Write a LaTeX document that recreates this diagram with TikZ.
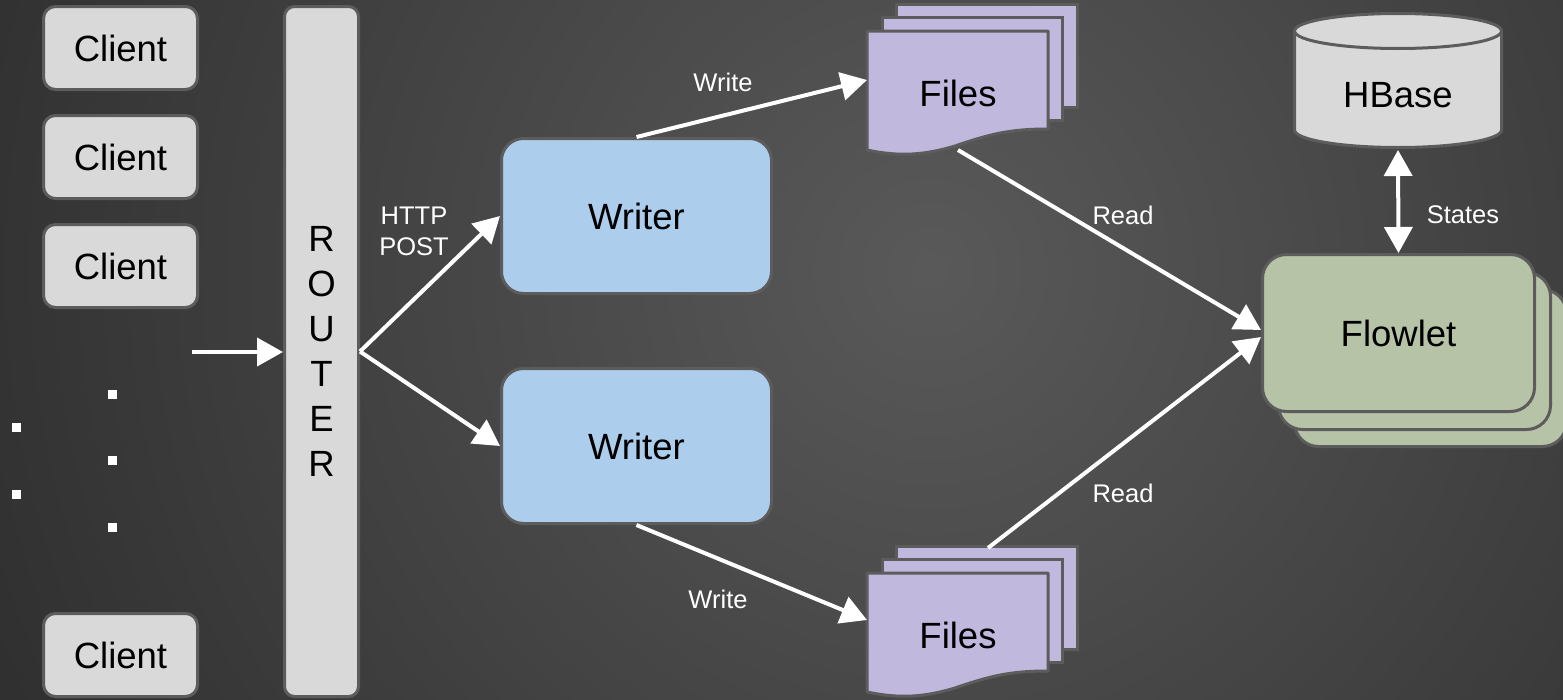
\documentclass[tikz,border=0pt]{standalone}
\usepackage{fontspec}
\setmainfont{Liberation Sans}
\usetikzlibrary{arrows.meta}
\pgfdeclareradialshading{bgshade}{\pgfpoint{0bp}{0bp}}{rgb(0bp)=(0.35,0.35,0.35); rgb(50bp)=(0.03,0.03,0.03)}
\definecolor{bordc}{HTML}{5C5C5C}
\definecolor{clientc}{HTML}{D9D9D9}
\definecolor{writerc}{HTML}{ADCDEC}
\definecolor{filesc}{HTML}{C0B8DD}
\definecolor{flowc}{HTML}{B6C3A6}
\newcommand\drawfiles[2]{%
  \draw[shapeline, fill=filesc] (896,{#1+4}) rectangle (1077,{#1+107});
  \draw[shapeline, fill=filesc] (882,{#1+17}) rectangle (1062,{#1+120});
  \draw[shapeline, fill=filesc, line join=round] (867,{#1+31}) -- (1048,{#1+31}) -- (1048,{#1+129})
     .. controls (1010,{#1+129}) and (990,{#1+134}) .. (955,{#1+146})
     .. controls (925,{#1+155}) and (900,{#1+157}) .. (867,{#1+150}) -- cycle;
  \node[big] (#2) at (958,{#1+93}) {Files};
}
\begin{document}
\begin{tikzpicture}[x=1pt,y=-1pt,
  big/.style={font=\fontsize{36.5}{45}\selectfont, text=black, inner sep=0pt},
  small/.style={font=\fontsize{25.5}{31}\selectfont, text=white, inner sep=0pt},
  shapeline/.style={draw=bordc, line width=3pt},
  box/.style={shapeline, rounded corners=12pt, inner sep=0pt, big},
  tipw/.tip={Triangle[length=26pt,width=28pt]},
  conn/.style={draw=white, line width=4pt, -tipw},
  dotbox/.style={fill=white, minimum size=9pt, inner sep=0pt, outer sep=0pt},
]
\useasboundingbox (0,0) rectangle (1563,699);
\begin{scope}
  \clip (0,0) rectangle (1563,699);
  \shade[shading=bgshade] (-70,-730) rectangle (1930,1270);
\end{scope}

% clients
\node[box, fill=clientc, minimum width=154pt, minimum height=83pt] (c1) at (120.5,48) {Client};
\node[box, fill=clientc, minimum width=154pt, minimum height=83pt] (c2) at (120.5,157) {Client};
\node[box, fill=clientc, minimum width=154pt, minimum height=83pt] (c3) at (120.5,266) {Client};
\node[box, fill=clientc, minimum width=154pt, minimum height=83pt] (c4) at (120.5,655) {Client};

% dots
\node[dotbox] (d1) at (112.5,394.5) {};
\node[dotbox] (d2) at (112.5,460.5) {};
\node[dotbox] (d3) at (112.5,527.5) {};
\node[dotbox] (d4) at (16.5,427.5) {};
\node[dotbox] (d5) at (16.5,494.5) {};

% router
\node[box, fill=clientc, rounded corners=10pt, minimum width=74pt, minimum height=690pt, align=center] (rtr) at (321.5,351.5) {R\\O\\U\\T\\E\\R};

% writers
\node[box, fill=writerc, rounded corners=22pt, minimum width=270pt, minimum height=155pt] (w1) at (636.5,216) {Writer};
\node[box, fill=writerc, rounded corners=22pt, minimum width=270pt, minimum height=155pt] (w2) at (636.5,446) {Writer};

% files
\drawfiles{0}{f1}
\drawfiles{542}{f2}
\coordinate (f1in) at (867,80);
\coordinate (f1out) at (958,150);
\coordinate (f2in) at (867,620);
\coordinate (f2out) at (988,548);

% hbase
\fill[clientc] (1294.5,31) -- (1294.5,130) arc[start angle=180, end angle=360, x radius=103.5pt, y radius=17.5pt] -- (1501.5,31) -- cycle;
\draw[shapeline] (1294.5,31) -- (1294.5,130) arc[start angle=180, end angle=360, x radius=103.5pt, y radius=17.5pt] -- (1501.5,31);
\draw[shapeline, fill=clientc] (1398,31) ellipse[x radius=103.5pt, y radius=17.5pt];
\node[big] (hb) at (1398,95) {HBase};
\coordinate (hbb) at (1398,150);

% flowlet stack
\draw[shapeline, fill=flowc, rounded corners=24pt] (1294.5,289.5) rectangle (1566.5,446.5);
\draw[shapeline, fill=flowc, rounded corners=24pt] (1278.5,272.5) rectangle (1550.5,429.5);
\node[box, fill=flowc, rounded corners=24pt, minimum width=272pt, minimum height=157pt] (fl) at (1398.5,333) {Flowlet};
\coordinate (rd1) at (1261,330);
\coordinate (rd2) at (1261,337);

% connectors
\coordinate (inp) at (192,352);
\draw[conn] (inp) -- (rtr.west |- inp);
\draw[conn] (rtr.east) -- (w1.west);
\draw[conn] (rtr.east) -- (w2.west);
\draw[conn] (w1.north) -- (f1in);
\draw[conn] (w2.south) -- (f2in);
\draw[conn] (f1out) -- (rd1);
\draw[conn] (f2out) -- (rd2);
\draw[draw=white, line width=4pt, tipw-tipw] (hbb) -- (fl.north);

% labels
\node[small, align=center] (lhttp) at (414,231) {HTTP\\POST};
\node[small] (lw1) at (723,82) {Write};
\node[small] (lw2) at (718,599) {Write};
\node[small] (lr1) at (1123,215) {Read};
\node[small] (lr2) at (1123,493) {Read};
\node[small] (lst) at (1463,215) {States};
\end{tikzpicture}
\end{document}
